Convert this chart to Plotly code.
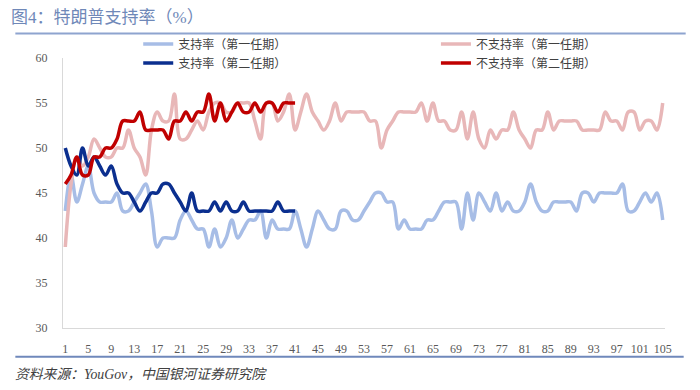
import plotly.graph_objects as go

weeks1 = list(range(1, 106))
weeks2 = list(range(1, 42))

approve1 = [43, 47, 44, 46, 48, 45, 44, 44, 44, 45,
            43, 43, 44, 45, 46, 43, 39, 40, 40, 40,
            42, 43, 42, 41, 41, 39, 41, 39, 40, 42,
            40, 41, 42, 42, 43, 40, 42, 41, 41, 41,
            43, 41, 39, 41, 43, 42, 41, 41, 43, 43,
            42, 42, 43, 44, 45, 45, 44, 44, 41, 42,
            41, 41, 41, 42, 42, 43, 44, 44, 44, 41,
            45, 42, 45, 44, 43, 45, 43, 44, 43, 43,
            44, 46, 44, 43, 43, 44, 44, 44, 44, 43,
            45, 45, 44, 45, 45, 45, 45, 46, 43, 43,
            44, 45, 44, 45, 42]

disapprove1 = [39, 46, 49, 48, 49, 51, 50, 49, 49, 50,
               50, 52, 50, 49, 47, 52, 54, 53, 53, 56,
               51, 51, 52, 53, 52, 54, 55, 55, 54, 54,
               55, 55, 55, 53, 51, 55, 55, 53, 54, 56,
               52, 54, 56, 54, 53, 52, 53, 55, 53, 54,
               54, 54, 54, 53, 53, 50, 52, 53, 54, 54,
               54, 54, 55, 53, 55, 53, 53, 52, 52, 54,
               51, 54, 51, 50, 52, 51, 52, 52, 54, 52,
               51, 50, 52, 52, 54, 52, 53, 53, 53, 53,
               52, 52, 52, 52, 54, 53, 53, 52, 54, 54,
               52, 53, 53, 52, 55]

approve2 = [50, 48, 47, 50, 48, 49, 48, 47, 48, 46,
            45, 45, 44, 43, 44, 45, 45, 46, 46, 45,
            44, 43, 45, 43, 43, 43, 44, 43, 44, 43,
            43, 44, 43, 43, 43, 43, 43, 44, 43, 43,
            43]

disapprove2 = [46, 47, 49, 47, 47, 49, 49, 50, 50, 51,
               53, 53, 53, 54, 52, 52, 52, 52, 51, 53,
               53, 54, 53, 54, 54, 56, 53, 55, 53, 54,
               55, 54, 54, 55, 54, 55, 55, 54, 55, 55,
               55]

names = ["支持率（第一任期）", "不支持率（第一任期）", "支持率（第二任期）", "不支持率（第二任期）"]
colors = ["#a7bde6", "#e8b7b8", "#0b2f8f", "#c00000"]
xticks = list(range(1, 106, 4))

FONT = "Liberation Serif, Noto Sans CJK SC, serif"

# page body has an 8px margin: work in screen coordinates and shift
OFF = 8
W, H = 692, 382
L, T = 54.7, 49.6
PW, PH = 602.6, 270.7
R = W - L - PW
B = H - T - PH


def px(xs):
    return (xs - OFF - L) / PW


def py(ys):
    return 1 - (ys - OFF - T) / PH


fig = go.Figure()
fig.add_trace(go.Scatter(x=weeks1, y=approve1, name=names[0], mode="lines",
                         line=dict(color=colors[0], width=3.5, shape="spline"), legend="legend"))
fig.add_trace(go.Scatter(x=weeks1, y=disapprove1, name=names[1], mode="lines",
                         line=dict(color=colors[1], width=3.5, shape="spline"), legend="legend2"))
fig.add_trace(go.Scatter(x=weeks2, y=approve2, name=names[2], mode="lines",
                         line=dict(color=colors[2], width=3.5, shape="spline"), legend="legend"))
fig.add_trace(go.Scatter(x=weeks2, y=disapprove2, name=names[3], mode="lines",
                         line=dict(color=colors[3], width=3.5, shape="spline"), legend="legend2"))

leg_common = dict(orientation="v", xanchor="left", yanchor="top", bgcolor="rgba(0,0,0,0)",
                  font=dict(family=FONT, size=12, color="#404040"), tracegroupgap=0,
                  itemwidth=30)

fig.update_layout(
    width=W, height=H,
    margin=dict(l=L, r=R, t=T, b=B, autoexpand=False),
    paper_bgcolor="white", plot_bgcolor="white",
    font=dict(family=FONT, size=12, color="#595959"),
    showlegend=True,
    legend=dict(x=px(138), y=py(29), **leg_common),
    legend2=dict(x=px(436), y=py(29), **leg_common),
    xaxis=dict(range=[0.6, 105.4], tickmode="array", tickvals=xticks,
               ticktext=[str(v) for v in xticks], showgrid=False, zeroline=False,
               showline=True, linecolor="#d9d9d9", linewidth=1, ticks="",
               ticklabelstandoff=10,
               tickfont=dict(family=FONT, size=12, color="#595959")),
    yaxis=dict(range=[30, 60], dtick=5, showgrid=False, zeroline=False,
               showline=True, linecolor="#d9d9d9", linewidth=1, ticks="",
               ticklabelstandoff=12,
               tickfont=dict(family=FONT, size=12, color="#595959")),
    annotations=[
        dict(text="图4：特朗普支持率（%）", xref="paper", yref="paper",
             x=px(9), y=py(17), xanchor="left", yanchor="middle",
             showarrow=False, font=dict(family=FONT, size=17, color="#6f88b8")),
        dict(text="<i>资料来源：YouGov，中国银河证券研究院</i>", xref="paper", yref="paper",
             x=px(13), y=py(375), xanchor="left", yanchor="middle",
             showarrow=False, font=dict(family=FONT, size=13.8, color="#404040")),
    ],
    shapes=[
        dict(type="line", xref="paper", yref="paper", x0=px(15), x1=px(686),
             y0=py(33), y1=py(33), line=dict(color="#8ea4cf", width=2)),
        dict(type="line", xref="paper", yref="paper", x0=px(15), x1=px(684),
             y0=py(357), y1=py(357), line=dict(color="#6f88bb", width=2)),
    ],
)

fig.write_html("out.html")
